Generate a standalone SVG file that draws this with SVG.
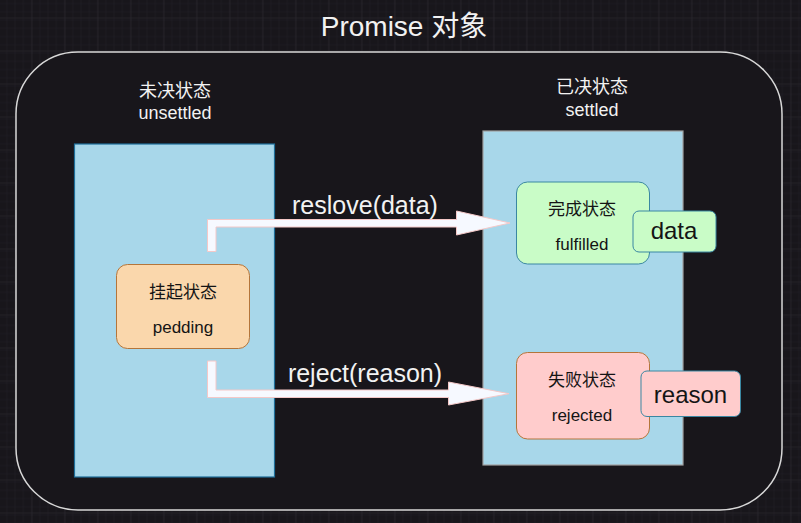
<svg xmlns="http://www.w3.org/2000/svg" width="801" height="523" viewBox="0 0 801 523">
<style>
text{font-family:"Liberation Sans","Noto Sans CJK SC",Arial,sans-serif;text-anchor:middle}
.w{fill:#f2f2f2}
.k{fill:#141414}
.f18{font-size:18px}
.f17{font-size:17px}
.f24{font-size:24px}
.f25{font-size:25px}
.col{fill:#a8d7ea}
.arrow{fill:#f6f9ff;stroke:#f4c8c8;stroke-width:1}
</style>
<defs>
<pattern id="minor" width="8.25" height="8.25" patternUnits="userSpaceOnUse" x="-0.5" y="18.5">
<path d="M8.25 0V8.25M0 8.25H8.25" fill="none" stroke="#222027" stroke-width="1"/>
</pattern>
<pattern id="major" width="33" height="33" patternUnits="userSpaceOnUse" x="-0.5" y="18.5">
<rect width="33" height="33" fill="url(#minor)"/>
<path d="M33 0V33M0 33H33" fill="none" stroke="#2d2b31" stroke-width="1"/>
</pattern>
</defs>
<rect width="801" height="523" fill="#18161b"/>
<rect width="801" height="523" fill="url(#major)"/>
<text class="w" x="404" y="36" font-size="28">Promise 对象</text>
<g id="container">
<rect x="16" y="52" width="766" height="458" rx="62" fill="#18161b" stroke="#d8d8d8" stroke-width="1.5"/>
</g>
<g id="unsettled">
<rect class="col" x="74.5" y="144" width="200" height="333" stroke="#1f6f9a" stroke-width="1.2"/>
<text class="w f18" x="175" y="97">未决状态</text>
<text class="w f18" x="175" y="119">unsettled</text>
</g>
<g id="settled">
<rect class="col" x="483" y="131" width="200" height="334" stroke="#a0a0a0" stroke-width="1.2"/>
<text class="w f18" x="592" y="93">已决状态</text>
<text class="w f18" x="592" y="116">settled</text>
</g>
<g id="pending">
<rect x="116.5" y="264.5" width="133" height="84" rx="11" fill="#fad7ac" stroke="#b4753a" stroke-width="1"/>
<text class="k f17" x="183" y="298">挂起状态</text>
<text class="k f17" x="183" y="333">pedding</text>
</g>
<g id="fulfilled">
<rect x="516.5" y="182" width="133" height="82" rx="11" fill="#c9fcc7" stroke="#3a87a2" stroke-width="1"/>
<text class="k f17" x="582" y="215">完成状态</text>
<text class="k f17" x="582" y="250">fulfilled</text>
</g>
<g id="data">
<rect x="633" y="211" width="83" height="41" rx="6" fill="#c9fcc7" stroke="#3a87a2" stroke-width="1"/>
<text class="k f24" x="674" y="238.5">data</text>
</g>
<g id="rejected">
<rect x="516.5" y="352.5" width="133" height="86.5" rx="11" fill="#ffcccc" stroke="#b4753a" stroke-width="1"/>
<text class="k f17" x="582" y="386">失败状态</text>
<text class="k f17" x="582" y="421">rejected</text>
</g>
<g id="reason">
<rect x="641" y="371" width="99.5" height="45.5" rx="6" fill="#ffcccc" stroke="#3a87a2" stroke-width="1"/>
<text class="k f24" x="690.5" y="402.5">reason</text>
</g>
<g id="connectors">
<path class="arrow" d="M207.5 219.5H456.5V211L510 223L456.5 235V227H216V251.5H207.5Z"/>
<text class="w f25" x="365" y="214">reslove(data)</text>
<path class="arrow" d="M207.5 361H216V390H448.5V382L509 393.7L448.5 405V397.5H207.5Z"/>
<text class="w f25" x="365" y="381.5">reject(reason)</text>
</g>
</svg>
